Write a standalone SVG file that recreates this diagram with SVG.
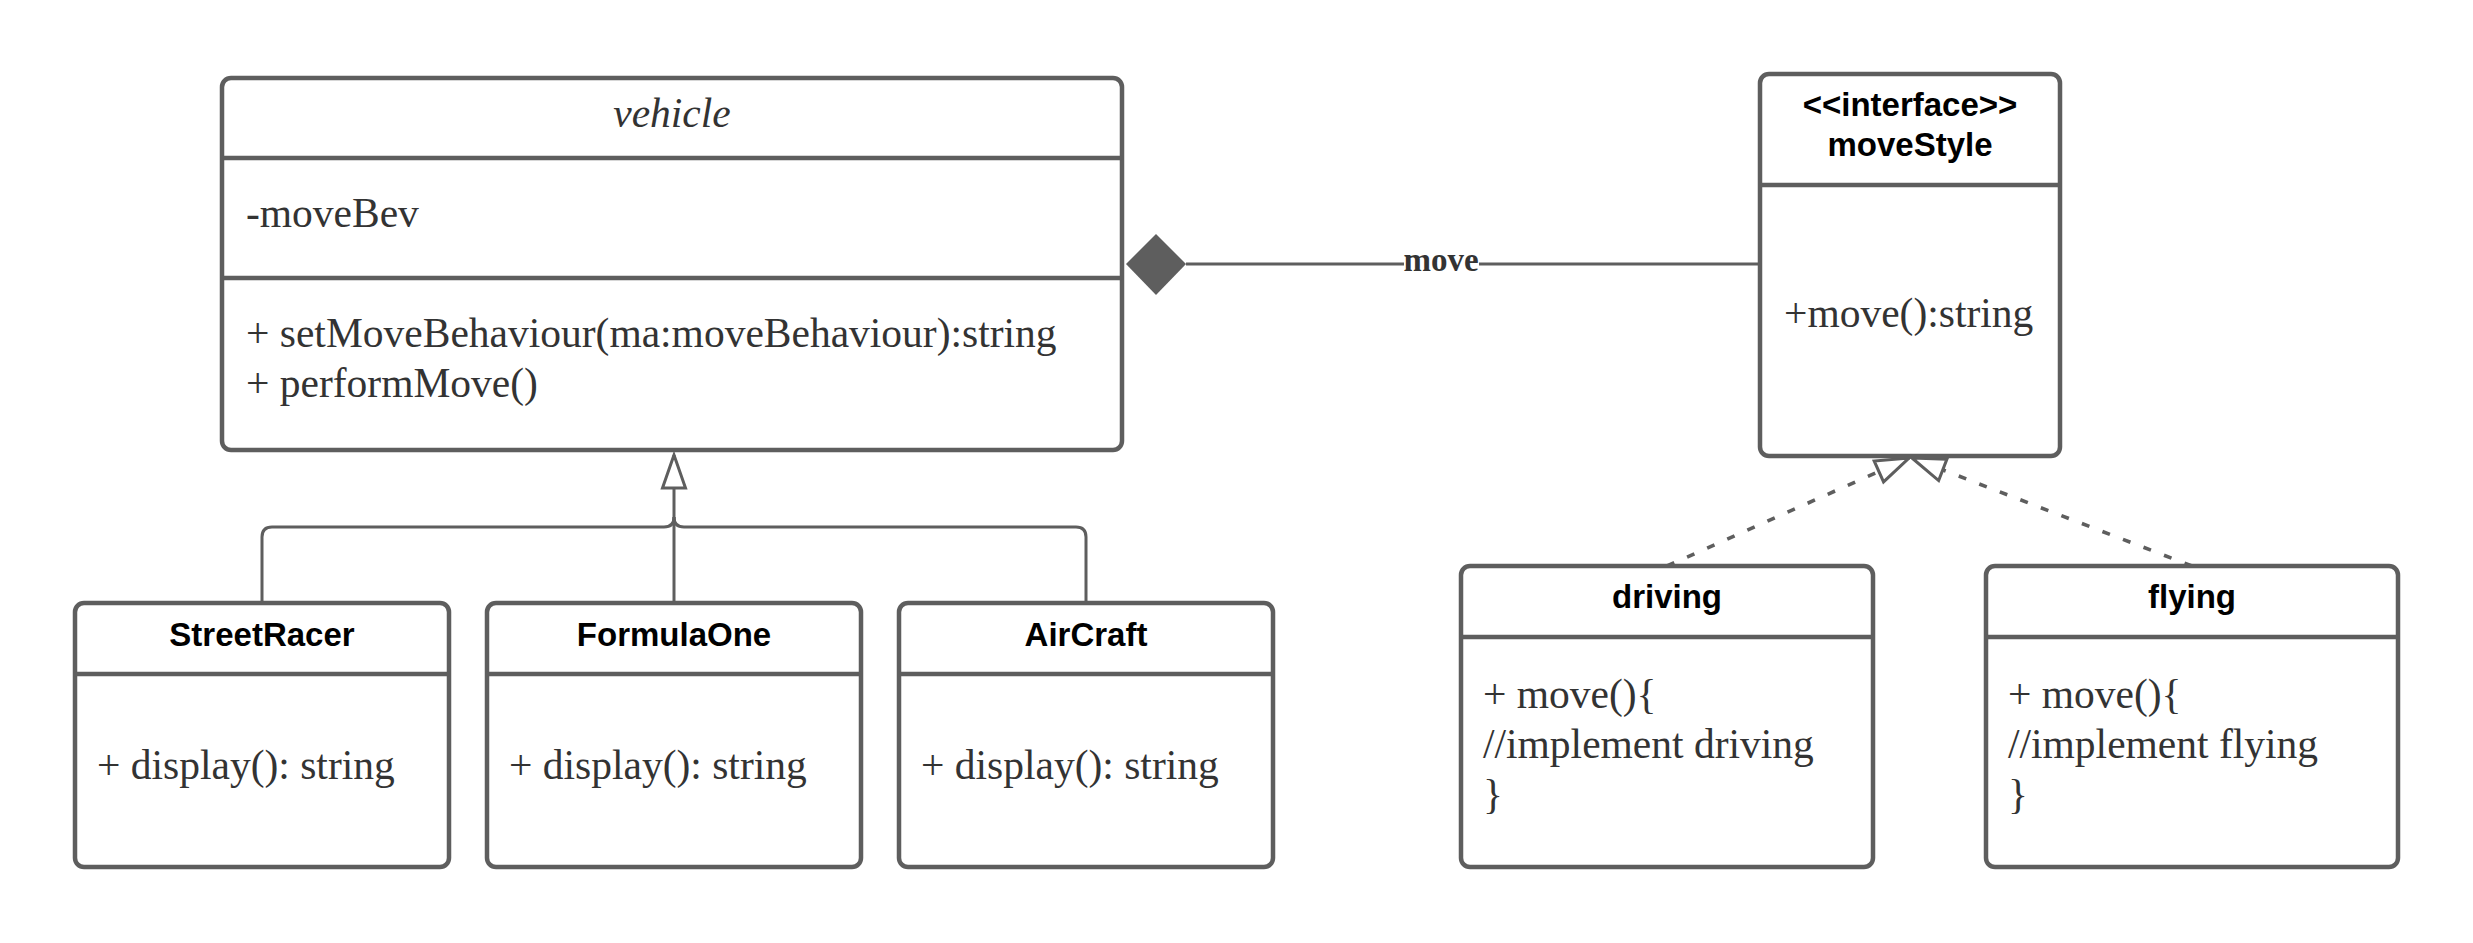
<svg xmlns="http://www.w3.org/2000/svg" width="2473" height="943" viewBox="0 0 2473 943">
<style>
.box{fill:#fff;stroke:#5e5e5e;stroke-width:4.5}
.div{stroke:#5e5e5e;stroke-width:4.5;fill:none}
.title{font-family:"Liberation Sans",Arial,sans-serif;font-weight:bold;font-size:33px;fill:#000;text-anchor:middle}
.txt{font-family:"Liberation Serif","Times New Roman",serif;font-size:41.5px;fill:#333}
.conn{fill:none;stroke:#5e5e5e;stroke-width:3}
.dash{stroke-width:3.6;stroke-dasharray:8 14}
.lbl{font-family:"Liberation Serif","Times New Roman",serif;font-weight:bold;font-size:33px;fill:#333;text-anchor:middle}
</style>
<defs>
<marker id="hollow" markerUnits="userSpaceOnUse" markerWidth="40" markerHeight="30" refX="36" refY="14" orient="auto" overflow="visible">
<path d="M36,14 L3,2.5 L3,25.5 Z" fill="#fff" stroke="#5e5e5e" stroke-width="3"/>
</marker>
</defs>
<rect width="2473" height="943" fill="#fff"/>

<g id="connectors">
<path class="conn" d="M262,603 V537 Q262,527 272,527 H664 Q674,527 674,517"/>
<path class="conn" d="M1086,603 V537 Q1086,527 1076,527 H684 Q674,527 674,517"/>
<path class="conn" d="M674,603 L674,455" marker-end="url(#hollow)"/>
<path class="conn dash" d="M1667,566 L1909,458" marker-end="url(#hollow)"/>
<path class="conn dash" d="M2192,566 L1912,458" marker-end="url(#hollow)"/>
<line class="conn" x1="1186" y1="264" x2="1760" y2="264"/>
<polygon points="1126,264 1156,234 1186,264 1156,295" fill="#5e5e5e"/>
<rect x="1404" y="246" width="75" height="32" fill="#fff"/>
<text class="lbl" x="1441" y="271">move</text>
</g>

<g id="vehicle">
<rect class="box" x="222" y="78" width="900" height="372" rx="9"/>
<line class="div" x1="222" y1="158" x2="1122" y2="158"/>
<line class="div" x1="222" y1="278" x2="1122" y2="278"/>
<text class="txt" x="672" y="127" text-anchor="middle" font-style="italic">vehicle</text>
<text class="txt" x="246" y="227">-moveBev</text>
<text class="txt" x="246" y="347">+ setMoveBehaviour(ma:moveBehaviour):string</text>
<text class="txt" x="246" y="397">+ performMove()</text>
</g>

<g id="moveStyle">
<rect class="box" x="1760" y="74" width="300" height="382" rx="9"/>
<line class="div" x1="1760" y1="185" x2="2060" y2="185"/>
<text class="title" x="1910" y="116">&lt;&lt;interface&gt;&gt;</text>
<text class="title" x="1910" y="156">moveStyle</text>
<text class="txt" x="1784" y="327">+move():string</text>
</g>

<g id="StreetRacer">
<rect class="box" x="75" y="603" width="374" height="264" rx="9"/>
<line class="div" x1="75" y1="674" x2="449" y2="674"/>
<text class="title" x="262" y="646">StreetRacer</text>
<text class="txt" x="97" y="779">+ display(): string</text>
</g>

<g id="FormulaOne">
<rect class="box" x="487" y="603" width="374" height="264" rx="9"/>
<line class="div" x1="487" y1="674" x2="861" y2="674"/>
<text class="title" x="674" y="646">FormulaOne</text>
<text class="txt" x="509" y="779">+ display(): string</text>
</g>

<g id="AirCraft">
<rect class="box" x="899" y="603" width="374" height="264" rx="9"/>
<line class="div" x1="899" y1="674" x2="1273" y2="674"/>
<text class="title" x="1086" y="646">AirCraft</text>
<text class="txt" x="921" y="779">+ display(): string</text>
</g>

<g id="driving">
<rect class="box" x="1461" y="566" width="412" height="301" rx="9"/>
<line class="div" x1="1461" y1="637" x2="1873" y2="637"/>
<text class="title" x="1667" y="608">driving</text>
<text class="txt" x="1483" y="708">+ move(){</text>
<text class="txt" x="1483" y="758">//implement driving</text>
<text class="txt" x="1483" y="808">}</text>
</g>

<g id="flying">
<rect class="box" x="1986" y="566" width="412" height="301" rx="9"/>
<line class="div" x1="1986" y1="637" x2="2398" y2="637"/>
<text class="title" x="2192" y="608">flying</text>
<text class="txt" x="2008" y="708">+ move(){</text>
<text class="txt" x="2008" y="758">//implement flying</text>
<text class="txt" x="2008" y="808">}</text>
</g>
</svg>
